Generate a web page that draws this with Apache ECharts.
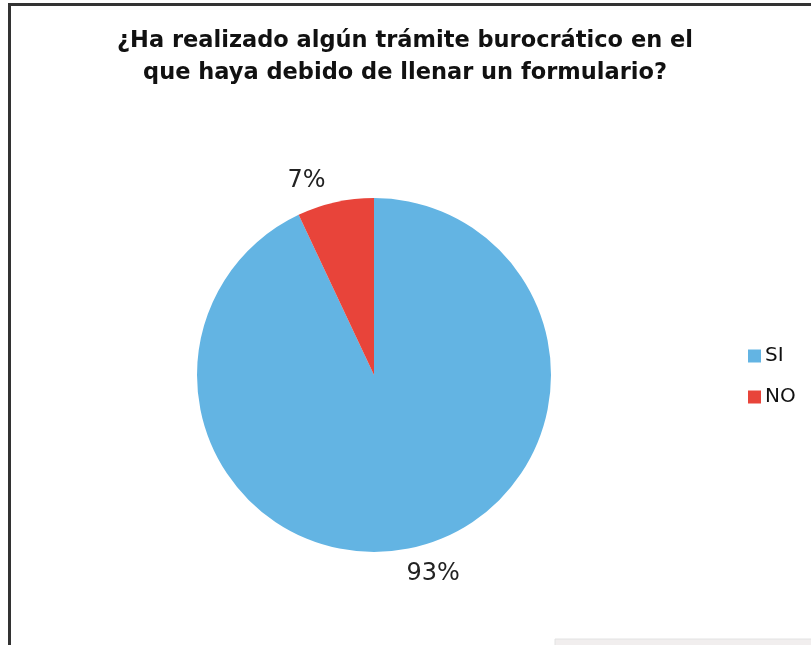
<!DOCTYPE html>
<html>
<head>
<meta charset="utf-8">
<script src="https://cdn.jsdelivr.net/npm/echarts@6/dist/echarts.min.js"></script>
<style>
html,body{margin:0;padding:0;background:#fff;}
#main{width:811px;height:645px;}
</style>
</head>
<body>
<div id="main"></div>
<script>
const titleText = "¿Ha realizado algún trámite burocrático en el\nque haya debido de llenar un formulario?";
const categories = ["SI", "NO"];
const values = [93, 7];
const colors = ["#63B4E3", "#E8443A"];

const chart = echarts.init(document.getElementById('main'), null, {renderer: 'canvas'});
chart.setOption({
  backgroundColor: '#ffffff',
  animation: false,
  title: {
    text: titleText,
    left: 400,
    top: 20,
    textAlign: 'center',
    textStyle: {
      fontFamily: 'DejaVu Sans',
      fontWeight: 'bold',
      fontSize: 22.5,
      lineHeight: 32,
      color: '#111'
    }
  },
  graphic: [{
    type: 'rect',
    shape: {x: 9.5, y: 4.5, width: 900, height: 800},
    style: {fill: 'none', stroke: '#333', lineWidth: 3},
    silent: true,
    z: 100
  }, {
    type: 'rect',
    shape: {x: 555, y: 639, width: 260, height: 10},
    style: {fill: '#f1eeee', stroke: '#e2e2e2', lineWidth: 1},
    silent: true,
    z: 90
  }],
  legend: {
    orient: 'vertical',
    left: 743,
    top: 341,
    itemWidth: 13,
    itemHeight: 13,
    itemGap: 21,
    icon: 'rect',
    textStyle: {fontFamily: 'DejaVu Sans', fontSize: 20, color: '#111', padding: [0,0,0,-1]},
    data: categories
  },
  series: [{
    type: 'pie',
    center: [374, 375],
    radius: [0, 177],
    startAngle: 90,
    clockwise: true,
    color: colors,
    label: {
      show: true,
      position: 'outside',
      formatter: '{c}%',
      fontFamily: 'DejaVu Sans',
      fontSize: 24,
      color: '#222'
    },
    labelLine: {show: false, length: 22, length2: 0},
    itemStyle: {borderWidth: 0},
    emphasis: {disabled: true},
    data: categories.map((c, i) => ({
      name: c,
      value: values[i],
      label: i === 0 ? {offset: [-16, 5]} : {}
    }))
  }]
});
</script>
</body>
</html>
